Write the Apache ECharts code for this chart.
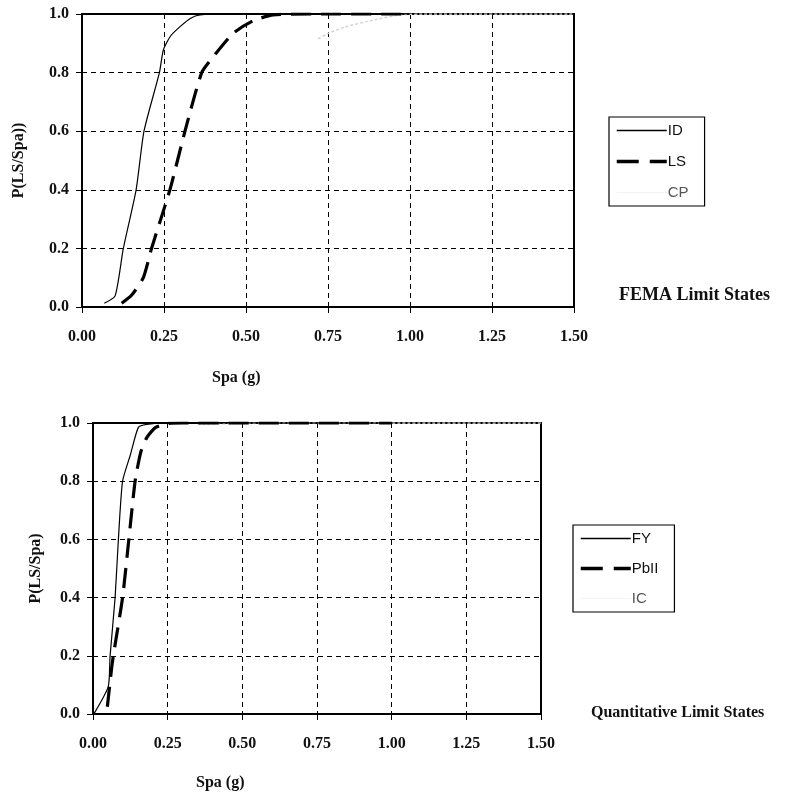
<!DOCTYPE html>
<html>
<head>
<meta charset="utf-8">
<script src="https://cdn.jsdelivr.net/npm/echarts@6/dist/echarts.min.js"></script>
<style>
  html, body { margin: 0; padding: 0; background: #fff; }
  #chart { width: 791px; height: 801px; }
</style>
</head>
<body>
<div id="chart"></div>
<script>
// Fragility curves: FEMA limit states (top) and quantitative limit states (bottom)
const xTickLabels = ['0.00', '0.25', '0.50', '0.75', '1.00', '1.25', '1.50'];
const yTickLabels = ['0.0', '0.2', '0.4', '0.6', '0.8', '1.0'];

// FEMA limit states
const idX = [0.068, 0.101, 0.126, 0.165, 0.189, 0.236, 0.248, 0.270, 0.299, 0.330, 0.360, 0.45, 1.0];
const idY = [0.013, 0.038, 0.20, 0.40, 0.60, 0.80, 0.877, 0.925, 0.957, 0.985, 0.997, 1.0, 1.0];
const lsX = [0.121, 0.151, 0.187, 0.212, 0.268, 0.314, 0.365, 0.40, 0.461, 0.522, 0.583, 0.70, 1.0];
const lsY = [0.013, 0.04, 0.10, 0.20, 0.40, 0.60, 0.80, 0.854, 0.934, 0.977, 0.997, 1.0, 1.0];
const cpX = [0.72, 0.751, 0.80, 0.868, 0.97, 1.05, 1.50];
const cpY = [0.915, 0.934, 0.955, 0.974, 0.997, 1.0, 1.0];

// Quantitative limit states
const fyX = [0.004, 0.051, 0.057, 0.074, 0.085, 0.099, 0.125, 0.152, 0.18, 0.25, 1.0];
const fyY = [0.002, 0.094, 0.197, 0.40, 0.60, 0.80, 0.89, 0.985, 0.995, 1.0, 1.0];
const pbX = [0.048, 0.063, 0.068, 0.099, 0.12, 0.141, 0.16, 0.18, 0.21, 0.25, 0.30, 1.0];
const pbY = [0.025, 0.163, 0.20, 0.40, 0.60, 0.80, 0.90, 0.95, 0.985, 0.998, 1.0, 1.0];
const icX = [0.35, 0.60, 1.0, 1.50];
const icY = [0.995, 1.0, 1.0, 1.0];

const pairs = (xs, ys) => xs.map((x, i) => [x, ys[i]]);

const serif = '"Liberation Serif", "DejaVu Serif", serif';
const sans = '"Liberation Sans", Arial, sans-serif';

function xAxisFor(gridIndex) {
  return {
    gridIndex, type: 'value', min: 0, max: 1.5, interval: 0.25,
    axisLine: { show: true, lineStyle: { color: '#000', width: 2 } },
    axisTick: { show: true, inside: false, length: 6, lineStyle: { color: '#000', width: 1 } },
    axisLabel: {
      margin: 22, color: '#111', fontFamily: serif, fontWeight: 'bold', fontSize: 16,
      formatter: v => xTickLabels[Math.round(v / 0.25)]
    },
    splitLine: { show: true, lineStyle: { color: '#000', width: 1, type: [5, 4] } }
  };
}
function yAxisFor(gridIndex, name, gap) {
  return {
    gridIndex, type: 'value', min: 0, max: 1, interval: 0.2,
    name, nameLocation: 'middle', nameGap: gap, nameRotate: 90,
    nameTextStyle: { color: '#111', fontFamily: serif, fontWeight: 'bold', fontSize: 16 },
    axisLine: { show: true, lineStyle: { color: '#000', width: 2 } },
    axisTick: { show: true, inside: false, length: 6, lineStyle: { color: '#000', width: 1 } },
    axisLabel: {
      margin: 13, color: '#111', fontFamily: serif, fontWeight: 'bold', fontSize: 16,
      formatter: v => yTickLabels[Math.round(v / 0.2)]
    },
    splitLine: { show: true, lineStyle: { color: '#000', width: 1, type: [5, 4] } }
  };
}

const solid = { color: '#000', width: 1.2, type: 'solid' };
const dashed = { color: '#000', width: 3.2, type: [20, 10] };
const faint = { color: '#d4d4d4', width: 1.5, type: [3, 2] };

function line(name, xs, ys, style, idx) {
  return {
    name, type: 'line', xAxisIndex: idx, yAxisIndex: idx,
    data: pairs(xs, ys), showSymbol: false, symbol: 'none', smooth: 0.2,
    lineStyle: style, itemStyle: { color: style.color }, z: 3
  };
}

// Legend entries: solid line, thick dashed line, and a pale entry
function legendFor(names, left, top, gap) {
  const styles = [
    { color: '#000', width: 1.5, type: 'solid' },
    { color: '#000', width: 3.5, type: [22, 11] },
    { color: '#f2f2f2', width: 1, type: 'solid' }
  ];
  return {
    data: names.map((n, i) => ({
      name: n,
      itemStyle: { opacity: 0 },
      lineStyle: styles[i],
      textStyle: i === 2 ? { color: '#555' } : {}
    })),
    orient: 'vertical', left, top,
    itemWidth: 50, itemHeight: 14, itemGap: gap,
    padding: [6, 16, 6, 6], borderColor: '#000', borderWidth: 1.2,
    backgroundColor: '#fff',
    textStyle: { color: '#111', fontFamily: sans, fontSize: 15, padding: [0, 0, 0, -4] }
  };
}

const chart = echarts.init(document.getElementById('chart'), null, { renderer: 'canvas' });
chart.setOption({
  animation: false,
  backgroundColor: '#fff',
  grid: [
    { left: 82, top: 14, width: 492, height: 293, show: true, borderColor: '#000', borderWidth: 2, backgroundColor: 'transparent' },
    { left: 93, top: 423, width: 448, height: 291, show: true, borderColor: '#000', borderWidth: 2, backgroundColor: 'transparent' }
  ],
  xAxis: [xAxisFor(0), xAxisFor(1)],
  yAxis: [yAxisFor(0, 'P(LS/Spa))', 55), yAxisFor(1, 'P(LS/Spa)', 49)],
  legend: [
    legendFor(['ID', 'LS', 'CP'], 609, 117, 16),
    legendFor(['FY', 'PbII', 'IC'], 573, 525, 15)
  ],
  series: [
    line('CP', cpX, cpY, faint, 0),
    line('LS', lsX, lsY, dashed, 0),
    line('ID', idX, idY, solid, 0),
    line('IC', icX, icY, faint, 1),
    line('PbII', pbX, pbY, dashed, 1),
    line('FY', fyX, fyY, solid, 1)
  ],
  graphic: [
    { type: 'text', left: 212, top: 370, style: { text: 'Spa (g)', fill: '#111', font: 'bold 16px ' + serif } },
    { type: 'text', left: 196, top: 775, style: { text: 'Spa (g)', fill: '#111', font: 'bold 16px ' + serif } },
    { type: 'text', left: 619, top: 286, style: { text: 'FEMA Limit States', fill: '#111', font: 'bold 18px ' + serif } },
    { type: 'text', left: 591, top: 705, style: { text: 'Quantitative Limit States', fill: '#111', font: 'bold 16px ' + serif } }
  ]
});
</script>
</body>
</html>
